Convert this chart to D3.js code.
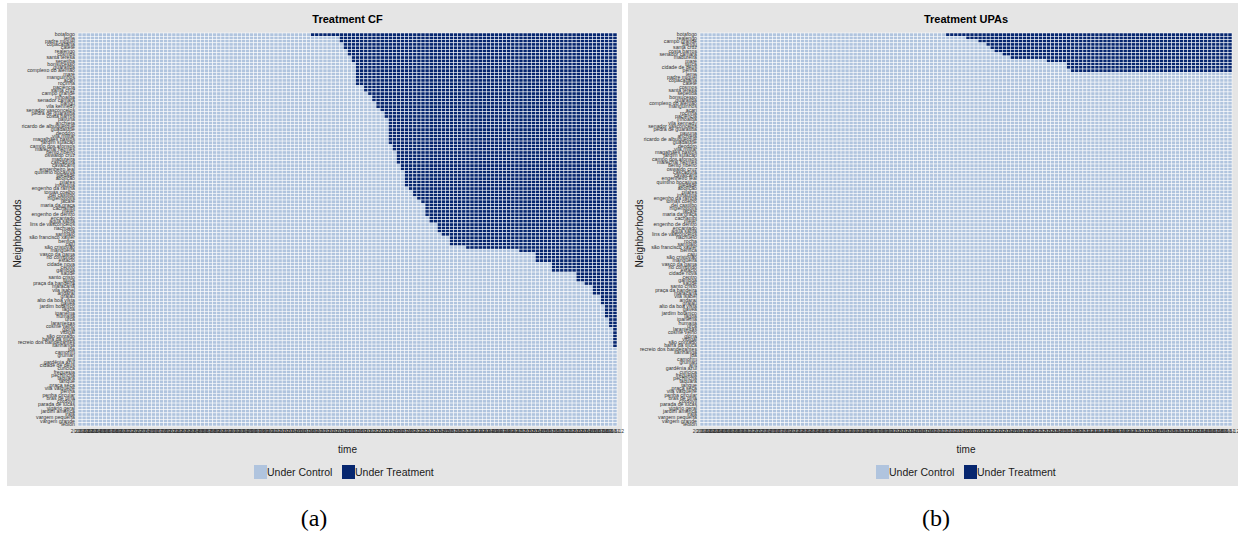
<!DOCTYPE html>
<html>
<head>
<meta charset="utf-8">
<script src="https://cdn.jsdelivr.net/npm/d3@7"></script>
<style>
  html, body { margin: 0; padding: 0; background: #ffffff; }
  svg { display: block; }
</style>
</head>
<body>
<svg id="chart" width="1238" height="535"></svg>
<script>
// Monthly periods, Jan 2006 – Dec 2016
const periods = d3.timeMonth.range(new Date(2006, 0, 1), new Date(2017, 0, 1)).map(d3.timeFormat("%Y-%m"));

// Neighbourhoods (rows)
const neighborhoods = [
  "botafogo", "leme", "padre miguel", "copacabana", "catete", "realengo", "cosmos", "santa teresa",
  "sepetiba", "bonsucesso", "guaratiba", "complexo do alemão", "maré", "manguinhos", "acari", "rocinha",
  "paciência", "santa cruz", "campo grande", "inhoaíba", "senador camará", "bangu", "vila kennedy", "senador vasconcelos",
  "pedra de guaratiba", "costa barros", "pavuna", "anchieta", "ricardo de albuquerque", "guadalupe", "deodoro", "vila militar",
  "magalhães bastos", "jardim sulacap", "campo dos afonsos", "marechal hermes", "bento ribeiro", "oswaldo cruz", "madureira", "cascadura",
  "cavalcanti", "engenheiro leal", "quintino bocaiúva", "piedade", "abolição", "pilares", "inhaúma", "engenho da rainha",
  "tomás coelho", "del castilho", "higienópolis", "jacaré", "maria da graça", "cachambi", "méier", "engenho de dentro",
  "encantado", "água santa", "lins de vasconcelos", "riachuelo", "rocha", "sampaio", "são francisco xavier", "benfica",
  "caju", "são cristóvão", "mangueira", "vasco da gama", "rio comprido", "estácio", "cidade nova", "centro",
  "gamboa", "saúde", "santo cristo", "tijuca", "praça da bandeira", "maracanã", "vila isabel", "andaraí",
  "grajaú", "alto da boa vista", "gávea", "jardim botânico", "lagoa", "ipanema", "humaitá", "urca",
  "laranjeiras", "cosme velho", "glória", "vidigal", "são conrado", "barra da tijuca", "recreio dos bandeirantes", "itanhangá",
  "joá", "camorim", "grumari", "anil", "gardênia azul", "cidade de deus", "curicica", "freguesia",
  "pechincha", "taquara", "tanque", "praça seca", "vila valqueire", "penha", "penha circular", "brás de pina",
  "cordovil", "parada de lucas", "vigário geral", "jardim américa", "irajá", "vargem pequena", "vargem grande", "leblon"
];

// First month under a Clínica da Família (null = never treated), aligned with neighborhoods
const cfStart = [
  "2010-10", "2011-05", "2011-05", "2011-06", "2011-06", "2011-07", "2011-07", "2011-08",
  "2011-08", "2011-09", "2011-09", "2011-09", "2011-09", "2011-09", "2011-09", "2011-09",
  "2011-11", "2011-11", "2011-12", "2012-01", "2012-01", "2012-02", "2012-02", "2012-03",
  "2012-04", "2012-04", "2012-05", "2012-05", "2012-05", "2012-05", "2012-05", "2012-05",
  "2012-05", "2012-05", "2012-06", "2012-06", "2012-07", "2012-07", "2012-07", "2012-07",
  "2012-08", "2012-08", "2012-09", "2012-09", "2012-09", "2012-09", "2012-09", "2012-10",
  "2012-11", "2012-11", "2012-12", "2013-01", "2013-02", "2013-02", "2013-02", "2013-02",
  "2013-03", "2013-03", "2013-05", "2013-05", "2013-05", "2013-06", "2013-08", "2013-08",
  "2013-08", "2013-12", "2015-01", "2015-05", "2015-05", "2015-05", "2015-09", "2015-09",
  "2015-09", "2016-03", "2016-03", "2016-03", "2016-05", "2016-07", "2016-07", "2016-07",
  "2016-09", "2016-09", "2016-09", "2016-10", "2016-10", "2016-10", "2016-10", "2016-11",
  "2016-11", "2016-11", "2016-12", "2016-12", "2016-12", "2016-12", "2016-12", "2016-12",
  null, null, null, null, null, null, null, null,
  null, null, null, null, null, null, null, null,
  null, null, null, null, null, null, null, null
];

// First month under a UPA (null = never treated), keyed by neighbourhood
const upaStart = {
  "botafogo": "2011-02", "realengo": "2011-07", "campo grande": "2011-10", "bangu": "2011-12",
  "santa cruz": "2012-01", "costa barros": "2012-02", "senador camará": "2012-04", "madureira": "2012-06",
  "maré": "2013-03", "tijuca": "2013-08", "cidade de deus": "2013-08", "penha": "2013-09"
};

const legendLabels = ["Under Control", "Under Treatment"];
const legendColors = ["#B0C4DE", "#06266F"];

const svg = d3.select("#chart");
const sans = "Liberation Sans, Arial, sans-serif";

const panels = [
  { title: "Treatment CF", caption: "(a)", starts: n => cfStart[neighborhoods.indexOf(n)],
    bg: { x: 7, y: 3, w: 615, h: 483 }, plot: { x: 78, y: 33, w: 539, h: 393 },
    yTitleX: 17, legendX: 254, captionX: 314 },
  { title: "Treatment UPAs", caption: "(b)", starts: n => upaStart[n] || null,
    bg: { x: 628, y: 3, w: 610, h: 483 }, plot: { x: 700, y: 33, w: 532, h: 393 },
    yTitleX: 639, legendX: 876, captionX: 936 }
];

panels.forEach(p => {
  const g = svg.append("g");

  g.append("rect")
    .attr("x", p.bg.x).attr("y", p.bg.y)
    .attr("width", p.bg.w).attr("height", p.bg.h)
    .attr("fill", "#e5e5e5");

  // order rows: earliest adoption first, never-treated at the bottom
  const order = neighborhoods
    .map((n, i) => ({ n, i, s: p.starts(n) }))
    .sort((a, b) => {
      if (a.s === b.s) return a.i - b.i;
      if (a.s === null) return 1;
      if (b.s === null) return -1;
      return a.s < b.s ? -1 : 1;
    });

  const x = d3.scaleBand().domain(periods).range([p.plot.x, p.plot.x + p.plot.w]);
  const y = d3.scaleBand().domain(order.map(d => d.n)).range([p.plot.y, p.plot.y + p.plot.h]);

  const cells = [];
  order.forEach(d => periods.forEach(t => {
    cells.push({ n: d.n, t, treated: d.s !== null && t >= d.s });
  }));

  g.append("g").selectAll("rect")
    .data(cells)
    .join("rect")
    .attr("x", d => x(d.t))
    .attr("y", d => y(d.n))
    .attr("width", x.bandwidth())
    .attr("height", y.bandwidth())
    .attr("fill", d => d.treated ? legendColors[1] : legendColors[0])
    .attr("stroke", "#ffffff")
    .attr("stroke-width", 0.5);

  // axes
  const yAxis = g.append("g")
    .attr("transform", `translate(${p.plot.x},0)`)
    .call(d3.axisLeft(y).tickSize(0).tickPadding(3));
  yAxis.select(".domain").remove();
  yAxis.selectAll("text")
    .attr("font-family", sans)
    .attr("font-size", 5.2)
    .attr("fill", "#333333");

  const xAxis = g.append("g")
    .attr("transform", `translate(0,${p.plot.y + p.plot.h})`)
    .call(d3.axisBottom(x).tickSize(0).tickPadding(3));
  xAxis.select(".domain").remove();
  xAxis.selectAll("text")
    .attr("font-family", sans)
    .attr("font-size", 5)
    .attr("fill", "#333333");

  const cx = p.plot.x + p.plot.w / 2;

  g.append("text")
    .attr("x", cx).attr("y", 23)
    .attr("text-anchor", "middle")
    .attr("font-family", sans)
    .attr("font-weight", "bold")
    .attr("font-size", 11)
    .attr("fill", "#000")
    .text(p.title);

  g.append("text")
    .attr("transform", `translate(${p.yTitleX},${p.plot.y + p.plot.h / 2 + 4}) rotate(-90)`)
    .attr("text-anchor", "middle")
    .attr("dy", "0.35em")
    .attr("font-family", sans)
    .attr("font-size", 10)
    .attr("fill", "#1a1a1a")
    .text("Neighborhoods");

  g.append("text")
    .attr("x", cx).attr("y", 453)
    .attr("text-anchor", "middle")
    .attr("font-family", sans)
    .attr("font-size", 10)
    .attr("fill", "#1a1a1a")
    .text("time");

  // legend
  const legendOffsets = [0, 88];
  legendLabels.forEach((lab, i) => {
    const lx = p.legendX + legendOffsets[i];
    g.append("rect")
      .attr("x", lx).attr("y", 465)
      .attr("width", 13).attr("height", 14)
      .attr("fill", legendColors[i]);
    g.append("text")
      .attr("x", lx + 13).attr("y", 476)
      .attr("font-family", sans)
      .attr("font-size", 10.5)
      .attr("fill", "#1a1a1a")
      .text(lab);
  });

  svg.append("text")
    .attr("x", p.captionX).attr("y", 526)
    .attr("text-anchor", "middle")
    .attr("font-family", "Liberation Serif, serif")
    .attr("font-size", 24)
    .attr("fill", "#000")
    .text(p.caption);
});
</script>
</body>
</html>
